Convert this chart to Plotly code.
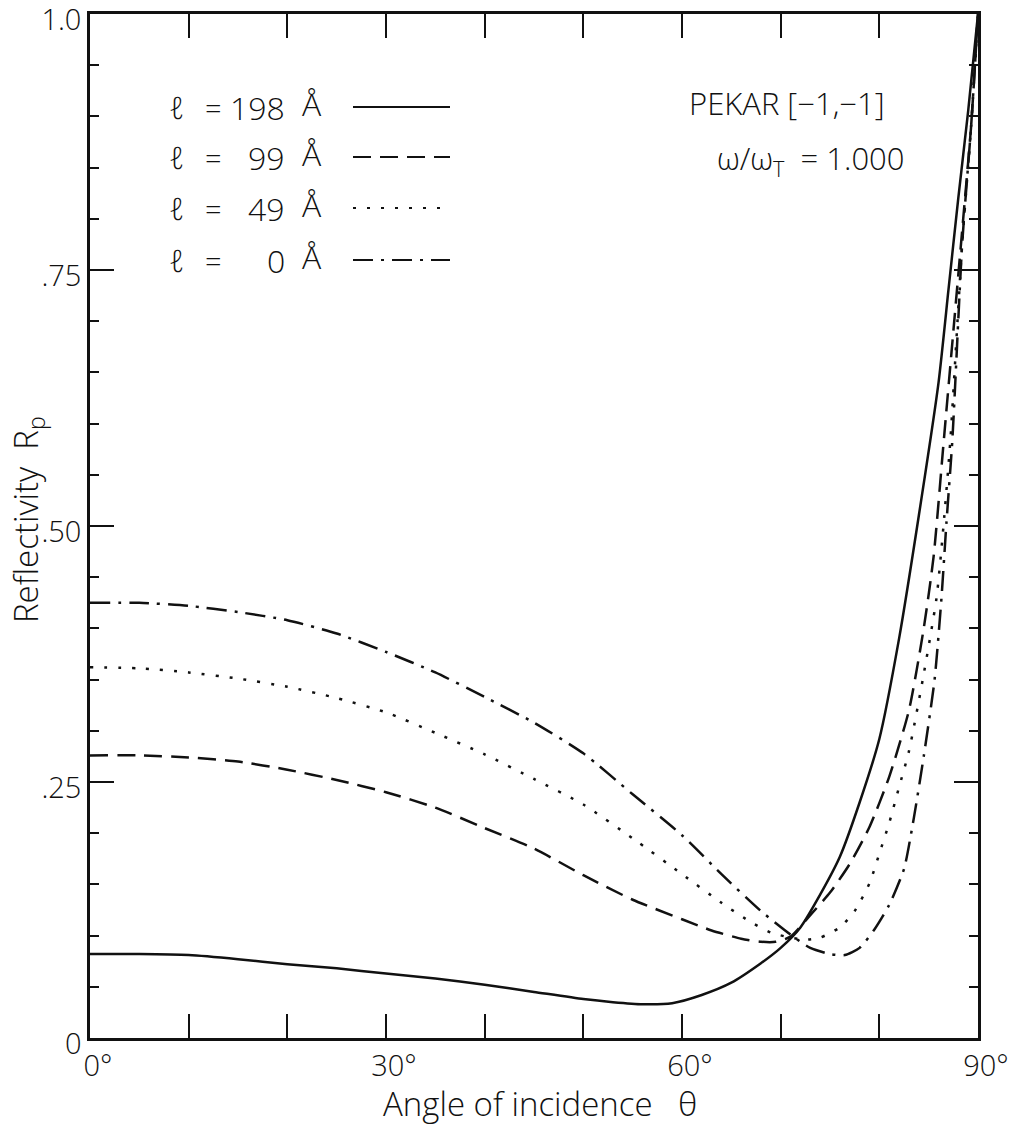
import plotly.graph_objects as go

# ---------------- data ----------------
theta_198 = [0, 5, 10, 15, 20, 25, 30, 35, 40, 45, 50, 53, 56, 59, 62, 65, 68, 70, 72, 74, 76, 78, 80, 82, 84, 86, 87, 88, 89, 90]
R_198 = [0.082, 0.082, 0.081, 0.077, 0.072, 0.068, 0.063, 0.058, 0.052, 0.045, 0.038, 0.035, 0.033, 0.034, 0.042, 0.054,
         0.073, 0.088, 0.108, 0.140, 0.177, 0.230, 0.292, 0.39, 0.51, 0.64, 0.73, 0.82, 0.905, 1.0]

theta_99 = [0, 5, 10, 15, 20, 25, 30, 35, 40, 45, 50, 55, 60, 63, 66, 68, 69.5, 71, 73, 75, 77, 79, 81, 83, 84.5, 85.5,
            86.5, 87.5, 88.5, 89.3, 90]
R_99 = [0.276, 0.276, 0.274, 0.270, 0.262, 0.252, 0.240, 0.225, 0.205, 0.185, 0.159, 0.135, 0.116, 0.105, 0.097, 0.094,
        0.094, 0.099, 0.120, 0.142, 0.170, 0.206, 0.255, 0.32, 0.40, 0.47, 0.58, 0.69, 0.80, 0.89, 1.0]

theta_49 = [0, 5, 10, 15, 20, 25, 30, 35, 40, 45, 50, 55, 60, 64, 67, 69, 71, 72.5, 74, 76, 77.5, 79, 80, 81, 82, 83,
            84.4, 85.8, 86.5, 87.2, 88.4, 89.3, 90]
R_49 = [0.362, 0.361, 0.357, 0.351, 0.343, 0.332, 0.318, 0.298, 0.277, 0.253, 0.228, 0.195, 0.160, 0.132, 0.113, 0.103,
        0.098, 0.096, 0.098, 0.108, 0.124, 0.151, 0.18, 0.21, 0.245, 0.28, 0.35, 0.43, 0.50, 0.584, 0.776, 0.89, 1.0]

theta_0 = [0, 5, 10, 15, 20, 25, 30, 35, 40, 45, 50, 55, 60, 64, 68, 71, 73, 75, 76.5, 78, 79.5, 81, 82.5, 83.5, 84.5,
           85.6, 86.3, 86.8, 87.4, 88.4, 89.3, 90]
R_0 = [0.425, 0.425, 0.422, 0.416, 0.408, 0.395, 0.377, 0.357, 0.333, 0.308, 0.278, 0.238, 0.198, 0.160, 0.124, 0.101,
       0.088, 0.082, 0.081, 0.088, 0.106, 0.130, 0.165, 0.215, 0.275, 0.35, 0.43, 0.503, 0.584, 0.776, 0.89, 1.0]

legend_thickness = ["198", "99", "49", "0"]

x_tickvals = [0, 10, 20, 30, 40, 50, 60, 70, 80, 90]
x_ticktext = ["0°", " ", " ", "30°", " ", " ", "60°", " ", " ", "90°"]
y_tickvals = [0, 0.25, 0.5, 0.75, 1.0]
y_ticktext = ["0", ".25", ".50", ".75", "1.0"]

# ---------------- styles ----------------
FONT = "Open Sans"
WEIGHT = 300
INK = "#111111"
dashes = ["solid", "18px,9px", "3px,11px", "20px,8px,3px,8px"]
series = [(theta_198, R_198), (theta_99, R_99), (theta_49, R_49), (theta_0, R_0)]

W, H = 1016, 1137
L, R, T, B = 90, 38, 14, 99
PW, PH = W - L - R, H - T - B


def px(xp):
    return (xp - L) / PW


def py(yp):
    return (H - B - yp) / PH


def f(size):
    return dict(family=FONT, size=size, color=INK, weight=WEIGHT)


fig = go.Figure()
for (th, rv), d, name in zip(series, dashes, legend_thickness):
    fig.add_trace(go.Scatter(x=th, y=rv, mode="lines", name=name,
                             line=dict(color=INK, width=2.5, dash=d, shape="spline", smoothing=0.6),
                             showlegend=False, hoverinfo="skip"))

annotations = []
shapes = []
rows_y = [107, 157, 208, 260]
for name, d, ry in zip(legend_thickness, dashes, rows_y):
    annotations.append(dict(x=px(177), y=py(ry), xref="paper", yref="paper", text="ℓ", showarrow=False,
                            font=f(31), xanchor="center", yanchor="middle"))
    annotations.append(dict(x=px(213), y=py(ry), xref="paper", yref="paper", text="=", showarrow=False,
                            font=f(29), xanchor="center", yanchor="middle"))
    annotations.append(dict(x=px(287), y=py(ry), xref="paper", yref="paper", text=name, showarrow=False,
                            font=f(32), xanchor="right", yanchor="middle"))
    annotations.append(dict(x=px(312), y=py(ry - 4), xref="paper", yref="paper", text="Å", showarrow=False,
                            font=f(32), xanchor="center", yanchor="middle"))
    shapes.append(dict(type="line", xref="paper", yref="paper", x0=px(353), x1=px(450), y0=py(ry), y1=py(ry),
                       line=dict(color=INK, width=2.2, dash=d)))

annotations.append(dict(x=px(787), y=py(103), xref="paper", yref="paper", text="PEKAR [−1,−1]", showarrow=False,
                        font=f(31), xanchor="center", yanchor="middle"))
annotations.append(dict(x=px(810), y=py(160), xref="paper", yref="paper",
                        text="ω/ω<sub>T</sub>  = 1.000", showarrow=False,
                        font=f(31), xanchor="center", yanchor="middle"))
annotations.append(dict(x=px(540), y=py(1103), xref="paper", yref="paper",
                        text="Angle of incidence   θ", showarrow=False,
                        font=f(33), xanchor="center", yanchor="middle"))
annotations.append(dict(x=px(27), y=py(520), xref="paper", yref="paper", textangle=-90,
                        text="Reflectivity  R<sub>p</sub>", showarrow=False,
                        font=f(33), xanchor="center", yanchor="middle"))

fig.update_layout(
    width=W, height=H,
    margin=dict(l=L, r=R, t=T, b=B, pad=0, autoexpand=False),
    paper_bgcolor="white", plot_bgcolor="white",
    annotations=annotations, shapes=shapes,
    xaxis=dict(range=[0, 90], tickvals=x_tickvals, ticktext=x_ticktext, ticks="inside", ticklen=24,
               tickwidth=2, tickcolor=INK, showline=True, linecolor=INK, linewidth=2.5, mirror="allticks",
               showgrid=False, zeroline=False, tickfont=f(29), ticklabelshift=8, automargin=False,
               ticklabeloverflow="allow"),
    yaxis=dict(range=[0, 1], tickvals=y_tickvals, ticktext=y_ticktext, ticks="inside", ticklen=24,
               tickwidth=2, tickcolor=INK, showline=True, linecolor=INK, linewidth=2.5, mirror="allticks",
               showgrid=False, zeroline=False, tickfont=f(29), ticklabeloverflow="allow", automargin=False,
               ticklabelshift=6,
               minor=dict(tickvals=[i * 0.05 for i in range(21)], ticks="inside", ticklen=9, tickwidth=2,
                          tickcolor=INK, showgrid=False)),
)

fig.write_html("out.html")
